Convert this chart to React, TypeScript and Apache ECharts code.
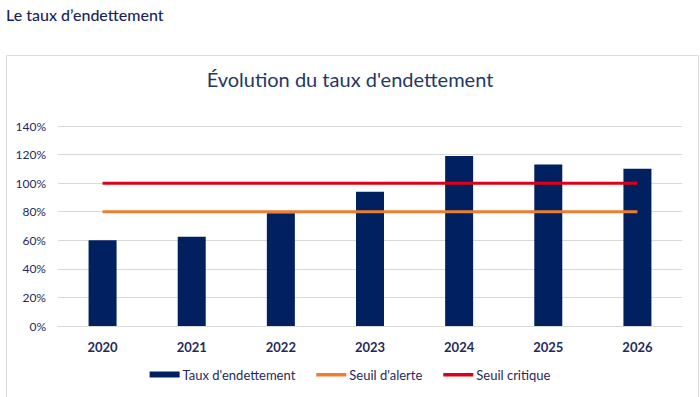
import React, { useEffect, useRef } from "react";
import * as echarts from "echarts";

const years = ["2020", "2021", "2022", "2023", "2024", "2025", "2026"];
const tauxEndettement = [60, 62.5, 79, 94, 119, 113, 110];
const seuilAlerte = [80, 80, 80, 80, 80, 80, 80];
const seuilCritique = [100, 100, 100, 100, 100, 100, 100];
const yTicks = [0, 20, 40, 60, 80, 100, 120, 140];

const NAVY = "#002060";
const TEXT = "#1F2A5C";
const FONT = "Lato, 'Noto Sans', sans-serif";
const LINE_ICON = "path://M0,1.5h30v3.5h-30zM0,0h30v0h-30zM0,6h30v0h-30z";

export default function App() {
  const ref = useRef<HTMLDivElement>(null);
  useEffect(() => {
    if (!ref.current) return;
    const chart = echarts.init(ref.current, null, { renderer: "svg" });
    chart.setOption({
      animation: false,
      backgroundColor: "#ffffff",
      textStyle: { fontFamily: FONT },
      graphic: [
        {
          type: "rect",
          shape: { x: 6.5, y: 55.5, width: 692, height: 360 },
          style: { fill: "none", stroke: "#dcdcdc", lineWidth: 1 },
          silent: true,
        },
        {
          type: "text",
          left: 6,
          top: 6,
          style: {
            text: "Le taux d\u2019endettement",
            fontFamily: FONT,
            fontSize: 16,
            fontWeight: 500,
            fill: "#1B1F5E",
          },
        },
      ],
      title: {
        text: "Évolution du taux d'endettement",
        left: "center",
        top: 64,
        textStyle: {
          fontFamily: FONT,
          fontSize: 20,
          fontWeight: "normal",
          color: "#1F3864",
        },
      },
      grid: { left: 58, right: 18, top: 126, bottom: 71, containLabel: false },
      xAxis: {
        type: "category",
        data: years,
        boundaryGap: true,
        axisLine: { show: true, lineStyle: { color: "#d9d9d9", width: 1 } },
        axisTick: { show: false },
        axisLabel: {
          color: TEXT,
          fontFamily: FONT,
          fontSize: 13,
          fontWeight: "bold",
          margin: 14,
        },
      },
      yAxis: {
        type: "value",
        min: yTicks[0],
        max: yTicks[yTicks.length - 1],
        interval: 20,
        axisLine: { show: false },
        axisTick: { show: false },
        splitLine: { lineStyle: { color: "#d9d9d9", width: 1 } },
        axisLabel: {
          color: TEXT,
          fontFamily: FONT,
          fontSize: 12,
          margin: 12,
          formatter: (v: number) => v + "%",
        },
      },
      legend: {
        bottom: 11,
        left: "center",
        itemWidth: 30,
        itemHeight: 6,
        itemGap: 21,
        textStyle: { color: TEXT, fontFamily: FONT, fontSize: 13, padding: [0, 0, 0, -2] },
        data: [
          { name: "Taux d'endettement", icon: "rect" },
          { name: "Seuil d'alerte", icon: LINE_ICON },
          { name: "Seuil critique", icon: LINE_ICON },
        ],
      },
      series: [
        {
          name: "Taux d'endettement",
          type: "bar",
          data: tauxEndettement,
          barWidth: 28,
          itemStyle: { color: NAVY },
        },
        {
          name: "Seuil d'alerte",
          type: "line",
          data: seuilAlerte,
          symbol: "none",
          lineStyle: { color: "#ED7D31", width: 3 },
          itemStyle: { color: "#ED7D31" },
        },
        {
          name: "Seuil critique",
          type: "line",
          data: seuilCritique,
          symbol: "none",
          lineStyle: { color: "#E00016", width: 3 },
          itemStyle: { color: "#E00016" },
        },
      ],
    });
    return () => chart.dispose();
  }, []);
  return (
    <div
      ref={ref}
      style={{ position: "fixed", left: 0, top: 0, width: 700, height: 397 }}
    />
  );
}
